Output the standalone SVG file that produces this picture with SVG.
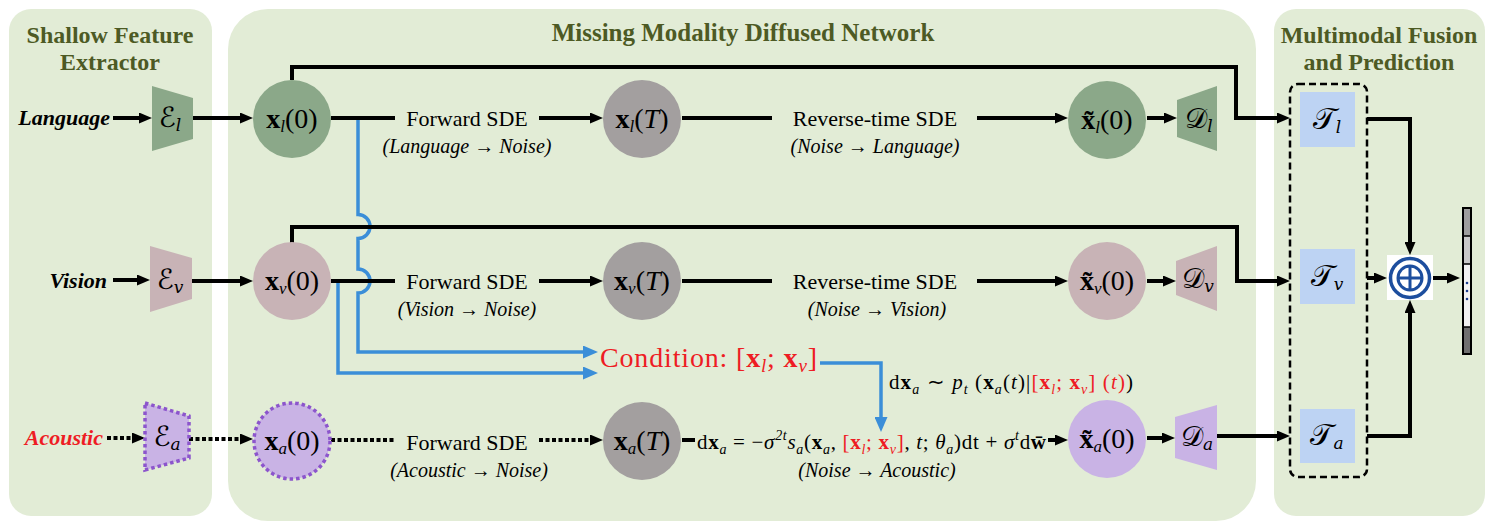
<svg xmlns="http://www.w3.org/2000/svg" width="1492" height="528" viewBox="0 0 1492 528">
<defs>
<style>
.panel{fill:#e2ecd6}
.title{font-family:'Liberation Serif',serif;font-weight:bold;font-size:24px;fill:#4d5a24;text-anchor:middle}
.lbl{font-family:'Liberation Serif',serif;font-weight:bold;font-style:italic;font-size:22px;text-anchor:end}
.sde{font-family:'Liberation Serif',serif;font-size:22px;text-anchor:middle;fill:#000}
.dir{font-family:'Liberation Serif',serif;font-style:italic;font-size:20px;text-anchor:middle;fill:#000}
.m{font-family:'Liberation Serif',serif;font-size:28px;text-anchor:middle;fill:#000}
.f{font-family:'Liberation Serif',serif;font-size:21px;fill:#000}
.cal{font-family:'DejaVu Serif','DejaVu Sans',serif;font-size:28px;text-anchor:middle;fill:#000}
.b{font-weight:bold}
.i{font-style:italic}
.s{font-size:17px;font-style:italic}
.fs{font-size:14px;font-style:italic}
.red{fill:#ee1c24}
.ln{fill:none;stroke:#000;stroke-width:4}
.dt{stroke-dasharray:4 2.5}
.blue{fill:none;stroke:#3b8ed8;stroke-width:3.5}
.cg{fill:#8ba889}
.cp{fill:#c8b3b6}
.cy{fill:#a39f9f}
.cl{fill:#c9b3e5}
.tb{fill:#bdd3f3}
</style>
<marker id="ah" markerUnits="userSpaceOnUse" markerWidth="13" markerHeight="11" refX="2" refY="5.5" orient="auto"><path d="M0,0 L13,5.5 L0,11 z" fill="#000"/></marker>
<marker id="bh" markerUnits="userSpaceOnUse" markerWidth="15" markerHeight="13" refX="2" refY="6.5" orient="auto"><path d="M0,0 L15,6.5 L0,13 z" fill="#3b8ed8"/></marker>
</defs>
<rect width="1492" height="528" fill="#fff"/>

<g id="panels">
<rect class="panel" x="9" y="9" width="203" height="507" rx="22"/>
<rect class="panel" x="228" y="9" width="1028" height="512" rx="40"/>
<rect class="panel" x="1274" y="9" width="211" height="507" rx="22"/>
<text class="title" x="110" y="43">Shallow Feature</text>
<text class="title" x="110" y="70">Extractor</text>
<text class="title" x="743" y="41" style="font-size:25px">Missing Modality Diffused Network</text>
<text class="title" x="1379" y="43">Multimodal Fusion</text>
<text class="title" x="1379" y="70">and Prediction</text>
</g>

<g id="inputs">
<text class="lbl" x="110" y="125">Language</text>
<text class="lbl" x="107" y="288">Vision</text>
<text class="lbl red" x="103" y="445">Acoustic</text>
</g>

<g id="connectors">
<path class="blue" d="M358,120 V214.5 A12,12 0 0 1 358,238.5 V269 A12,12 0 0 1 358,293 V352 H585" marker-end="url(#bh)"/>
<path class="blue" d="M338,283 V373 H585" marker-end="url(#bh)"/>
<path class="blue" d="M820,363 H881 V419" marker-end="url(#bh)"/>
<path class="ln" d="M113,118 H141" marker-end="url(#ah)"/>
<path class="ln" d="M113,280 H139" marker-end="url(#ah)"/>
<path class="ln dt" d="M107,438 H134" marker-end="url(#ah)"/>
<path class="ln" d="M193,118 H242" marker-end="url(#ah)"/>
<path class="ln" d="M192,281 H242" marker-end="url(#ah)"/>
<path class="ln dt" d="M189,439 H242" marker-end="url(#ah)"/>
<path class="ln" d="M331,118 H395"/>
<path class="ln" d="M539,118 H592" marker-end="url(#ah)"/>
<path class="ln" d="M682,118 H772"/>
<path class="ln" d="M977,118 H1057" marker-end="url(#ah)"/>
<path class="ln" d="M1147,118 H1166" marker-end="url(#ah)"/>
<path class="ln" d="M331,281 H395"/>
<path class="ln" d="M539,281 H592" marker-end="url(#ah)"/>
<path class="ln" d="M682,281 H772"/>
<path class="ln" d="M977,281 H1057" marker-end="url(#ah)"/>
<path class="ln" d="M1147,281 H1165" marker-end="url(#ah)"/>
<path class="ln dt" d="M331,440 H395"/>
<path class="ln dt" d="M539,440 H592" marker-end="url(#ah)"/>
<path class="ln" d="M682,440 H695"/>
<path class="ln" d="M1048,440 H1057" marker-end="url(#ah)"/>
<path class="ln" d="M1147,438 H1164" marker-end="url(#ah)"/>
<path class="ln" d="M1217,436 H1279" marker-end="url(#ah)"/>
<path class="ln" d="M292,80 V67 H1236 V118 H1279" marker-end="url(#ah)"/>
<path class="ln" d="M292,243 V227 H1237 V281 H1279" marker-end="url(#ah)"/>
<path class="ln" d="M1367,119 H1410 V244" marker-end="url(#ah)"/>
<path class="ln" d="M1367,278 H1376" marker-end="url(#ah)"/>
<path class="ln" d="M1367,436 H1410 V311" marker-end="url(#ah)"/>
<path class="ln" d="M1433,278 H1449" marker-end="url(#ah)"/>
</g>

<g id="E_l"><polygon class="cg" points="152,86 193,98 193,139 152,151"/><text class="cal" x="170" y="127">ℰ<tspan class="s" dy="4">l</tspan></text></g>
<g id="E_v"><polygon class="cp" points="150,246 192,258 192,299 150,312"/><text class="cal" x="170" y="289">ℰ<tspan class="s" dy="4">v</tspan></text></g>
<g id="E_a"><polygon class="cl" points="145,403 189,416 189,458 145,470" stroke="#8c55cc" stroke-width="3.5" stroke-dasharray="3.5 3"/><text class="cal" x="167" y="446">ℰ<tspan class="s" dy="4">a</tspan></text></g>

<g id="xl0"><circle class="cg" cx="292" cy="119" r="39"/><text class="m" x="292" y="128"><tspan class="b">x</tspan><tspan class="s" dy="4">l</tspan><tspan dy="-4">(0)</tspan></text></g>
<g id="xv0"><circle class="cp" cx="292" cy="281" r="39"/><text class="m" x="292" y="290"><tspan class="b">x</tspan><tspan class="s" dy="4">v</tspan><tspan dy="-4">(0)</tspan></text></g>
<g id="xa0"><circle class="cl" cx="292" cy="441" r="38" stroke="#8c55cc" stroke-width="3.5" stroke-dasharray="3.5 3"/><text class="m" x="292" y="450"><tspan class="b">x</tspan><tspan class="s" dy="4">a</tspan><tspan dy="-4">(0)</tspan></text></g>

<g id="fwd-labels">
<text class="sde" x="467" y="126">Forward SDE</text>
<text class="dir" x="467" y="153">(Language → Noise)</text>
<text class="sde" x="467" y="289">Forward SDE</text>
<text class="dir" x="467" y="316">(Vision → Noise)</text>
<text class="sde" x="467" y="450">Forward SDE</text>
<text class="dir" x="469" y="477">(Acoustic → Noise)</text>
</g>

<g id="xlT"><circle class="cy" cx="642" cy="119" r="39"/><text class="m" x="642" y="128"><tspan class="b">x</tspan><tspan class="s" dy="4">l</tspan><tspan dy="-4">(</tspan><tspan class="i">T</tspan>)</text></g>
<g id="xvT"><circle class="cy" cx="642" cy="281" r="39"/><text class="m" x="642" y="290"><tspan class="b">x</tspan><tspan class="s" dy="4">v</tspan><tspan dy="-4">(</tspan><tspan class="i">T</tspan>)</text></g>
<g id="xaT"><circle class="cy" cx="642" cy="441" r="39"/><text class="m" x="642" y="450"><tspan class="b">x</tspan><tspan class="s" dy="4">a</tspan><tspan dy="-4">(</tspan><tspan class="i">T</tspan>)</text></g>

<g id="rev-labels">
<text class="sde" x="875" y="126">Reverse-time SDE</text>
<text class="dir" x="875" y="153">(Noise → Language)</text>
<text class="sde" x="875" y="289">Reverse-time SDE</text>
<text class="dir" x="877" y="316">(Noise → Vision)</text>
<text class="f" x="697" y="449" textLength="349" lengthAdjust="spacing">d<tspan class="b">x</tspan><tspan class="fs" dy="5">a</tspan><tspan dy="-5"> = −</tspan><tspan class="i">σ</tspan><tspan class="fs" dy="-9">2t</tspan><tspan class="i" dy="9">s</tspan><tspan class="fs" dy="5">a</tspan><tspan dy="-5">(</tspan><tspan class="b">x</tspan><tspan class="fs" dy="5">a</tspan><tspan dy="-5">, </tspan><tspan class="red">[<tspan class="b">x</tspan><tspan class="fs" dy="5">l</tspan><tspan dy="-5">; </tspan><tspan class="b">x</tspan><tspan class="fs" dy="5">v</tspan><tspan dy="-5">]</tspan></tspan>, <tspan class="i">t</tspan>; <tspan class="i">θ</tspan><tspan class="fs" dy="5">a</tspan><tspan dy="-5">)dt + </tspan><tspan class="i">σ</tspan><tspan class="fs" dy="-9">t</tspan><tspan dy="9">d</tspan><tspan class="b">w̄</tspan></text>
<text class="dir" x="877" y="477">(Noise → Acoustic)</text>
</g>

<g id="condition">
<text class="f red" x="600" y="367" style="font-size:28px" textLength="217" lengthAdjust="spacing">Condition:  [<tspan class="b">x</tspan><tspan style="font-size:19px;font-style:italic" dy="5">l</tspan><tspan dy="-5">; </tspan><tspan class="b">x</tspan><tspan style="font-size:19px;font-style:italic" dy="5">v</tspan><tspan dy="-5">]</tspan></text>
<text class="f" x="889" y="389" textLength="244" lengthAdjust="spacing">d<tspan class="b">x</tspan><tspan class="fs" dy="5">a</tspan><tspan dy="-5">  ∼  </tspan><tspan class="i">p</tspan><tspan class="fs" dy="5">t</tspan><tspan dy="-5"> (</tspan><tspan class="b">x</tspan><tspan class="fs" dy="5">a</tspan><tspan dy="-5">(</tspan><tspan class="i">t</tspan>)|<tspan class="red">[<tspan class="b">x</tspan><tspan class="fs" dy="5">l</tspan><tspan dy="-5">; </tspan><tspan class="b">x</tspan><tspan class="fs" dy="5">v</tspan><tspan dy="-5">] (</tspan><tspan class="i">t</tspan>)</tspan>)</text>
</g>

<g id="xl0t"><circle class="cg" cx="1107" cy="120" r="39"/><text class="m" x="1107" y="129"><tspan class="b">x̃</tspan><tspan class="s" dy="4">l</tspan><tspan dy="-4">(0)</tspan></text></g>
<g id="xv0t"><circle class="cp" cx="1107" cy="281" r="39"/><text class="m" x="1107" y="290"><tspan class="b">x̃</tspan><tspan class="s" dy="4">v</tspan><tspan dy="-4">(0)</tspan></text></g>
<g id="xa0t"><circle class="cl" cx="1107" cy="439" r="39"/><text class="m" x="1107" y="448"><tspan class="b">x̃</tspan><tspan class="s" dy="4">a</tspan><tspan dy="-4">(0)</tspan></text></g>

<g id="D_l"><polygon class="cg" points="1177,100 1217,86 1217,151 1177,137"/><text class="cal" x="1199" y="128">𝒟<tspan class="s" dy="4">l</tspan></text></g>
<g id="D_v"><polygon class="cp" points="1176,261 1217,246 1217,311 1176,295"/><text class="cal" x="1198" y="288">𝒟<tspan class="s" dy="4">v</tspan></text></g>
<g id="D_a"><polygon class="cl" points="1175,417 1217,405 1217,470 1175,458"/><text class="cal" x="1197" y="446">𝒟<tspan class="s" dy="4">a</tspan></text></g>

<g id="transformers">
<rect x="1290" y="84" width="77" height="393" rx="8" fill="none" stroke="#000" stroke-width="2.5" stroke-dasharray="7 4"/>
<g id="T_l"><rect class="tb" x="1300" y="92" width="55" height="55"/><text class="cal" x="1327" y="129" style="font-size:30px">𝒯<tspan class="s" dy="4">l</tspan></text></g>
<g id="T_v"><rect class="tb" x="1300" y="249" width="55" height="55"/><text class="cal" x="1327" y="286" style="font-size:30px">𝒯<tspan class="s" dy="4">v</tspan></text></g>
<g id="T_a"><rect class="tb" x="1300" y="409" width="55" height="54"/><text class="cal" x="1327" y="445" style="font-size:30px">𝒯<tspan class="s" dy="4">a</tspan></text></g>
</g>

<g id="fusion">
<rect x="1387" y="255" width="46" height="45" fill="#fff"/>
<circle cx="1410" cy="278" r="19.5" fill="none" stroke="#1d4e9e" stroke-width="3.5"/>
<circle cx="1410" cy="278" r="12" fill="none" stroke="#1d4e9e" stroke-width="3"/>
<path d="M1398,278 H1422 M1410,266 V290" stroke="#1d4e9e" stroke-width="3"/>
</g>

<g id="output">
<rect x="1463" y="208" width="8" height="28" fill="#9e9e9e"/>
<rect x="1463" y="236" width="8" height="28" fill="#c9c9c9"/>
<rect x="1463" y="264" width="8" height="63" fill="#f2f2f2"/>
<rect x="1463" y="327" width="8" height="27" fill="#707070"/>
<path d="M1463,236 H1471 M1463,264 H1471 M1463,327 H1471" stroke="#000" stroke-width="1.5"/>
<rect x="1463" y="208" width="8" height="146" fill="none" stroke="#000" stroke-width="2"/>
<circle cx="1467" cy="283" r="1.3" fill="#1f3f8f"/>
<circle cx="1467" cy="291" r="1.3" fill="#1f3f8f"/>
<circle cx="1467" cy="299" r="1.3" fill="#1f3f8f"/>
</g>
</svg>
